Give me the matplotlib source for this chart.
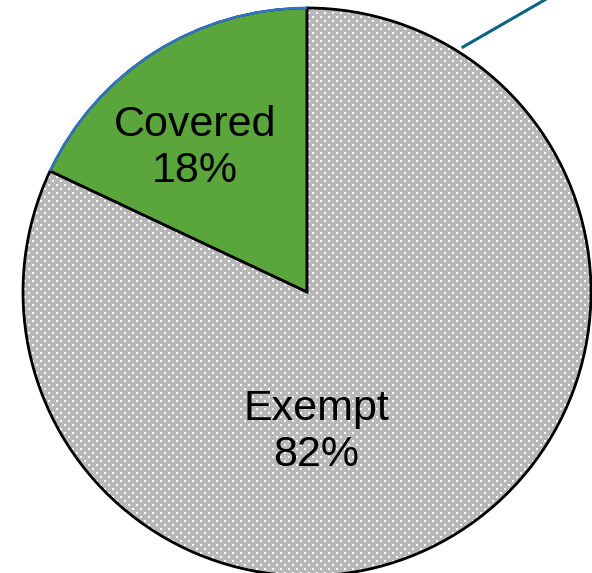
import numpy as np
import matplotlib.pyplot as plt
from matplotlib.patches import Wedge, Arc

plt.rcParams['font.family'] = ['Liberation Sans', 'DejaVu Sans']

labels = ['Covered', 'Exempt']
shares = [18, 82]
colors = ['#5aa53c', '#b9b9b9']

W, H = 592, 573
cx, cy, r = 307, H - 292, 284

fig = plt.figure(figsize=(W / 100, H / 100), dpi=100)
ax = fig.add_axes([0, 0, 1, 1])

wedges, _ = ax.pie(shares, colors=colors, startangle=90, counterclock=True,
                   center=(cx, cy), radius=r, frame=True,
                   wedgeprops=dict(edgecolor='none', linewidth=0))
ax.set_xlim(0, W)
ax.set_ylim(0, H)
ax.set_aspect('equal')
ax.axis('off')

# dotted texture for the exempt slice
tex = np.full((H, W, 3), 0.725)
yy, xx = np.mgrid[0:H, 0:W]
row = yy // 4
dots = ((yy % 4) < 2) & (((xx + (row % 2) * 4) % 8) < 2)
tex[dots] = 1.0
im = ax.imshow(tex, extent=(0, W, 0, H), origin='upper', zorder=1.5,
               interpolation='nearest')
im.set_clip_path(wedges[1])

# outlines
for w in wedges:
    w.set_zorder(1)
t1, t2 = wedges[0].theta1, wedges[0].theta2
ax.add_patch(Wedge((cx, cy), r, t2, t1 + 360, fill=False, edgecolor='black',
                   linewidth=2, zorder=3))
ax.add_patch(Wedge((cx, cy), r, t1, t2, fill=False, edgecolor='black',
                   linewidth=1.6, zorder=3))
ax.add_patch(Arc((cx, cy), 2 * r, 2 * r, theta1=t1, theta2=t2,
                 edgecolor='#2f74c8', linewidth=1.8, zorder=4))

# leader line running off the top edge
ax.plot([463, 548], [H - 47, H + 2], color='#0a6582', linewidth=2.2,
        clip_on=False, zorder=4)

ax.text(195, H - 148, f'{labels[0]}\n{shares[0]}%', ha='center', va='center',
        fontsize=31, linespacing=1.17, zorder=5)
ax.text(316, H - 432, f'{labels[1]}\n{shares[1]}%', ha='center', va='center',
        fontsize=31, linespacing=1.17, zorder=5)

fig.savefig('out.png', dpi=100)
